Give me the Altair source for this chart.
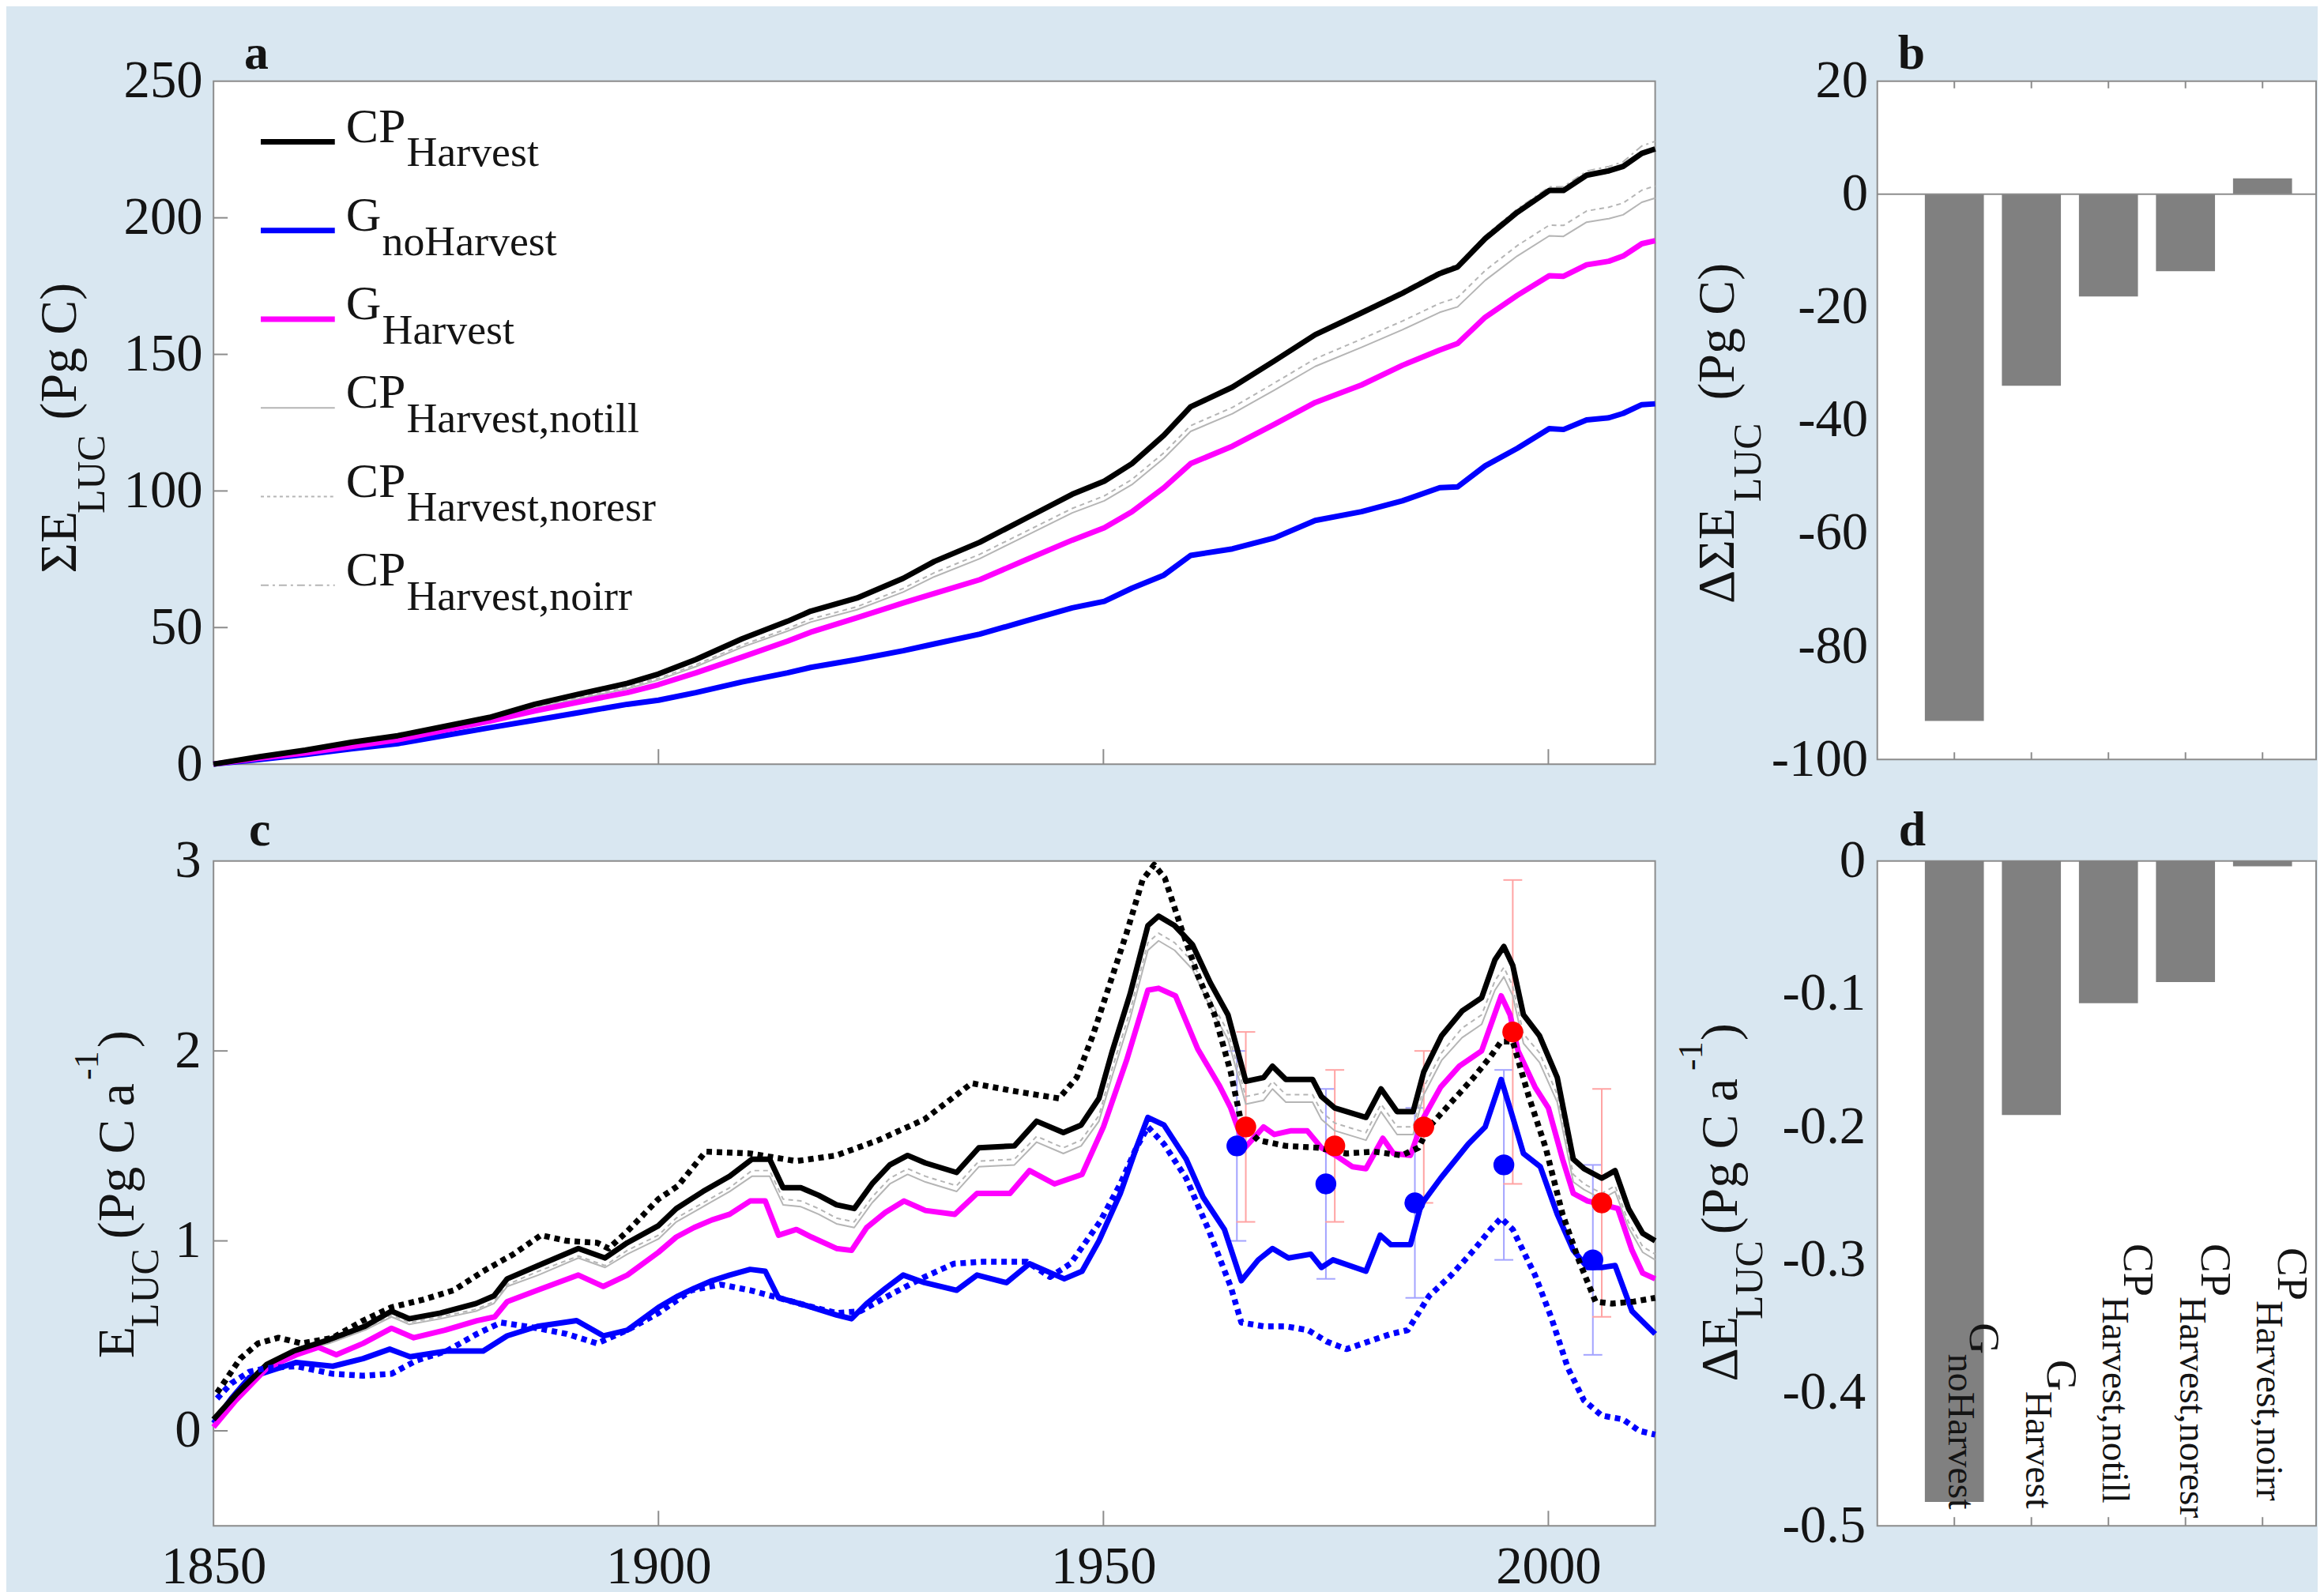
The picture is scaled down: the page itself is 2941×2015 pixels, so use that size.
import altair as alt
import pandas as pd

FONT = "Liberation Serif"
BG = "#d9e7f1"
FRAME = "#8c8c8c"
INK = "#141414"
GRAY_LINE = "#b5b5b5"
BAR = "#808080"

WA, HA = 1830, 867
WB, HB = 557, 861
WC, HC = 1830, 844
WD, HD = 557, 844

# ---------------- panel a : cumulative emissions (Pg C) ----------------
A_YEARS = [1850, 1855.2, 1860.3, 1865.5, 1870.7, 1875.8, 1881, 1886.1, 1891.3, 1896.5,
           1900, 1904.2, 1909.4, 1914.5, 1917.1, 1922.3, 1927.5, 1931, 1936.1, 1941.3,
           1946.5, 1950.1, 1953.2, 1956.8, 1959.8, 1964.5, 1969.2, 1973.8, 1979, 1983.6,
           1987.8, 1989.8, 1992.9, 1996.5, 2000.1, 2001.7, 2004.3, 2006.8, 2008.4, 2010.5, 2012]
A_CP_HARVEST = [0, 2.7, 5.1, 8.0, 10.4, 13.7, 17.1, 21.9, 25.8, 29.6,
                33.0, 38.3, 45.9, 52.3, 56.0, 60.8, 68.0, 74.2, 81.2, 90.0,
                98.8, 103.6, 110.0, 120.4, 130.8, 138.0, 147.6, 157.2, 165.2, 172.4,
                179.6, 182.0, 192.4, 202.0, 210.0, 210.0, 215.6, 217.2, 218.8, 223.6, 225.2]
A_G_NOHARVEST = [0, 1.7, 3.5, 5.6, 7.5, 10.4, 13.3, 16.1, 19.0, 21.9,
                 23.4, 26.2, 30.1, 33.4, 35.4, 38.3, 41.5, 44.0, 47.6, 52.4,
                 57.2, 59.6, 64.4, 69.2, 76.4, 78.8, 82.8, 89.2, 92.4, 96.4,
                 101.2, 101.5, 109.2, 115.6, 122.8, 122.5, 126.0, 126.8, 128.4, 131.6, 131.9]
A_G_HARVEST = [0, 2.2, 4.1, 6.5, 8.9, 12.3, 15.7, 19.5, 22.9, 26.2,
               29.1, 33.4, 39.2, 45.0, 48.3, 53.6, 59.0, 62.5, 67.5, 74.8,
               82.0, 86.5, 92.4, 101.2, 110.0, 116.4, 124.4, 132.4, 138.8, 146.0,
               151.6, 154.0, 163.6, 171.6, 178.8, 178.6, 182.8, 184.1, 186.0, 190.5, 191.6]
A_CP_NOTILL = [0, 2.6, 4.8, 7.5, 9.7, 12.8, 16.0, 20.5, 24.1, 27.6,
               30.8, 35.7, 42.8, 48.7, 52.0, 56.5, 63.0, 68.6, 75.2, 83.6,
               92.0, 96.4, 102.3, 112.0, 121.8, 128.3, 136.9, 145.6, 152.6, 159.0,
               165.4, 167.4, 177.1, 186.0, 193.4, 193.2, 198.4, 199.7, 201.1, 205.7, 207.2]
A_CP_NORESR = [0, 2.6, 4.9, 7.7, 9.9, 13.0, 16.3, 20.9, 24.6, 28.2,
               31.4, 36.4, 43.6, 49.6, 53.1, 57.6, 64.3, 70.1, 76.8, 85.2,
               93.6, 98.2, 104.2, 114.0, 123.9, 130.6, 139.5, 148.4, 155.6, 162.2,
               168.7, 170.8, 180.7, 189.8, 197.3, 197.2, 202.5, 203.9, 205.4, 210.1, 211.7]
A_CP_NOIRR = [0, 2.7, 5.1, 8.0, 10.5, 13.8, 17.2, 22.0, 25.9, 29.8,
              33.2, 38.5, 46.1, 52.6, 56.3, 61.1, 68.3, 74.6, 81.6, 90.5,
              99.3, 104.1, 110.5, 120.9, 131.4, 138.6, 148.3, 157.9, 166.0, 173.3,
              180.6, 183.0, 193.5, 203.2, 211.3, 211.4, 217.1, 218.8, 220.5, 226.3, 228.0]

# ---------------- panel c : annual emissions (Pg C / a) ----------------
C_CP_YEARS = [1850, 1852.5, 1856, 1859, 1863, 1867, 1870, 1872, 1875.5, 1879.5,
              1881.5, 1883, 1886.5, 1891, 1894, 1896.5, 1900, 1902, 1905, 1908,
              1910.5, 1912.5, 1914, 1916, 1918, 1920, 1922, 1924, 1926, 1928,
              1930, 1933.5, 1936, 1940, 1942.5, 1945.5, 1947.5, 1949.5, 1951, 1953,
              1955, 1956.2, 1958, 1960, 1962, 1964, 1966, 1968, 1969, 1970.5,
              1973.5, 1974.5, 1976, 1979.5, 1981.2, 1983, 1984.8, 1986, 1988, 1990.3,
              1992.5, 1994, 1995, 1996, 1997.2, 1999, 2001, 2002.8, 2004, 2006,
              2007.5, 2009, 2010.6, 2012]
C_CP_HARVEST = [0.06, 0.19, 0.35, 0.42, 0.48, 0.55, 0.63, 0.59, 0.62, 0.67,
                0.71, 0.80, 0.87, 0.96, 0.91, 0.99, 1.08, 1.17, 1.26, 1.34,
                1.43, 1.43, 1.28, 1.28, 1.24, 1.19, 1.17, 1.30, 1.40, 1.45,
                1.41, 1.36, 1.49, 1.50, 1.63, 1.57, 1.61, 1.75, 2.00, 2.30,
                2.66, 2.71, 2.66, 2.56, 2.36, 2.19, 1.84, 1.86, 1.92, 1.85,
                1.85, 1.76, 1.70, 1.65, 1.80, 1.68, 1.68, 1.89, 2.08, 2.21,
                2.28, 2.48, 2.55, 2.45, 2.19, 2.08, 1.86, 1.43, 1.38, 1.33,
                1.37, 1.17, 1.04, 1.00]
C_CP_NOTILL = [0.05, 0.18, 0.34, 0.41, 0.46, 0.53, 0.60, 0.56, 0.59, 0.63,
               0.67, 0.76, 0.82, 0.91, 0.86, 0.93, 1.01, 1.10, 1.18, 1.26,
               1.34, 1.34, 1.19, 1.18, 1.14, 1.09, 1.07, 1.20, 1.30, 1.35,
               1.31, 1.26, 1.39, 1.40, 1.52, 1.46, 1.50, 1.63, 1.87, 2.17,
               2.53, 2.58, 2.53, 2.43, 2.23, 2.06, 1.72, 1.74, 1.80, 1.73,
               1.73, 1.64, 1.58, 1.53, 1.68, 1.56, 1.56, 1.77, 1.95, 2.07,
               2.14, 2.32, 2.39, 2.29, 2.04, 1.94, 1.73, 1.31, 1.27, 1.22,
               1.26, 1.07, 0.94, 0.90]
C_CP_NORESR = [0.05, 0.18, 0.34, 0.41, 0.47, 0.53, 0.61, 0.57, 0.60, 0.64,
               0.68, 0.77, 0.84, 0.92, 0.87, 0.95, 1.03, 1.12, 1.20, 1.28,
               1.37, 1.37, 1.22, 1.21, 1.17, 1.12, 1.10, 1.23, 1.33, 1.38,
               1.34, 1.29, 1.42, 1.43, 1.55, 1.49, 1.53, 1.66, 1.91, 2.21,
               2.57, 2.62, 2.57, 2.47, 2.27, 2.10, 1.76, 1.78, 1.84, 1.77,
               1.77, 1.68, 1.62, 1.57, 1.72, 1.60, 1.60, 1.81, 1.99, 2.12,
               2.19, 2.37, 2.44, 2.34, 2.09, 1.99, 1.77, 1.35, 1.30, 1.25,
               1.29, 1.10, 0.97, 0.93]
C_CP_NOIRR = [0.06, 0.19, 0.35, 0.42, 0.48, 0.55, 0.63, 0.59, 0.62, 0.67,
              0.71, 0.80, 0.87, 0.96, 0.91, 0.99, 1.08, 1.17, 1.26, 1.34,
              1.43, 1.43, 1.28, 1.28, 1.24, 1.19, 1.17, 1.30, 1.40, 1.45,
              1.41, 1.36, 1.49, 1.50, 1.63, 1.57, 1.61, 1.75, 2.00, 2.30,
              2.66, 2.71, 2.66, 2.56, 2.36, 2.19, 1.84, 1.86, 1.92, 1.85,
              1.85, 1.76, 1.70, 1.65, 1.80, 1.68, 1.68, 1.89, 2.08, 2.21,
              2.28, 2.48, 2.55, 2.45, 2.19, 2.08, 1.86, 1.43, 1.38, 1.33,
              1.37, 1.17, 1.04, 1.00]
C_G_HARVEST = [(1850, 0.02), (1852.5, 0.16), (1856, 0.33), (1859.3, 0.40), (1861.8, 0.44),
               (1863.8, 0.40), (1866.8, 0.46), (1870, 0.54), (1872.5, 0.49), (1876, 0.53),
               (1879.6, 0.58), (1881.6, 0.60), (1883, 0.68), (1886.4, 0.74), (1891, 0.82),
               (1893.8, 0.76), (1896.5, 0.82), (1900, 0.94), (1902, 1.02), (1904, 1.07),
               (1906, 1.11), (1908, 1.14), (1910.3, 1.21), (1912, 1.21), (1913.5, 1.03),
               (1915.5, 1.06), (1917.2, 1.02), (1920, 0.96), (1921.7, 0.95), (1923.4, 1.07),
               (1925.5, 1.15), (1927.6, 1.21), (1930, 1.16), (1933.3, 1.14), (1935.8, 1.25),
               (1939.5, 1.25), (1941.7, 1.37), (1944.5, 1.30), (1947.6, 1.35), (1950, 1.60),
               (1952.6, 1.95), (1955, 2.32), (1956.2, 2.33), (1958.1, 2.29), (1960.6, 2.01),
               (1963, 1.82), (1964.3, 1.70), (1965.9, 1.49), (1968, 1.60), (1969.2, 1.56),
               (1971.1, 1.58), (1972.9, 1.58), (1974.5, 1.49), (1976.1, 1.45), (1978, 1.39),
               (1979.5, 1.38), (1981.4, 1.54), (1982.6, 1.46), (1984.5, 1.45), (1986, 1.65),
               (1987.9, 1.81), (1990, 1.92), (1992.5, 2.00), (1994.7, 2.29), (1995.7, 2.19),
               (1996.6, 2.00), (1998.5, 1.81), (2000, 1.70), (2001.6, 1.43), (2002.8, 1.25),
               (2004.4, 1.21), (2006.2, 1.19), (2007.8, 1.17), (2009.4, 0.95), (2010.6, 0.83),
               (2012, 0.80)]
C_G_NOHARVEST = [(1850, 0.04), (1852, 0.17), (1854, 0.28), (1856, 0.31), (1859.3, 0.36),
                 (1863.4, 0.34), (1866.8, 0.38), (1869.8, 0.43), (1872.1, 0.39), (1876.2, 0.42),
                 (1880.3, 0.42), (1883, 0.50), (1886.4, 0.55), (1890.8, 0.58), (1893.8, 0.50),
                 (1896.5, 0.53), (1900, 0.65), (1902.2, 0.71), (1904, 0.75), (1906, 0.79),
                 (1908, 0.82), (1910.3, 0.85), (1912, 0.84), (1913.5, 0.70), (1916.6, 0.66),
                 (1920, 0.61), (1921.7, 0.59), (1923.4, 0.67), (1925.5, 0.75), (1927.5, 0.82),
                 (1929.9, 0.78), (1933.5, 0.74), (1935.8, 0.82), (1939.1, 0.78), (1941.7, 0.88),
                 (1945.6, 0.80), (1947.6, 0.84), (1949.5, 1.00), (1951.9, 1.25), (1953.7, 1.49),
                 (1955, 1.65), (1956.8, 1.61), (1959.3, 1.43), (1961.2, 1.23), (1963.6, 1.06),
                 (1965.5, 0.79), (1967.4, 0.90), (1969, 0.96), (1970.8, 0.91), (1973.3, 0.93),
                 (1974.5, 0.86), (1975.8, 0.90), (1979.5, 0.84), (1981.1, 1.03), (1982.3, 0.98),
                 (1984.5, 0.98), (1985.7, 1.19), (1987.9, 1.33), (1991, 1.51), (1992.9, 1.60),
                 (1994.7, 1.85), (1996, 1.65), (1997.2, 1.46), (1999.1, 1.39), (2001, 1.14),
                 (2002.8, 0.95), (2004.4, 0.86), (2006, 0.86), (2007.5, 0.87), (2009.4, 0.63),
                 (2012, 0.51)]
C_DOT_BLACK = [(1850.4, 0.20), (1853, 0.38), (1855, 0.46), (1857.3, 0.49), (1859.9, 0.46),
               (1863.4, 0.49), (1866.8, 0.58), (1870, 0.65), (1873.5, 0.69), (1877, 0.74),
               (1880.3, 0.84), (1883.7, 0.93), (1886.8, 1.03), (1889.7, 1.00), (1893.1, 0.99),
               (1894.4, 0.96), (1896.5, 1.05), (1900, 1.22), (1902.2, 1.29), (1905.3, 1.47),
               (1910.3, 1.46), (1915.5, 1.42), (1920, 1.45), (1924.7, 1.53), (1929.9, 1.64),
               (1935.2, 1.83), (1939.8, 1.79), (1945, 1.75), (1947, 1.86), (1948.8, 2.08),
               (1950.7, 2.35), (1952.6, 2.62), (1954.4, 2.90), (1955.7, 2.98), (1956.9, 2.91),
               (1958.8, 2.64), (1960.6, 2.40), (1962.5, 2.19), (1964.3, 1.89), (1965.5, 1.62),
               (1967.4, 1.53), (1970.5, 1.50), (1974.2, 1.49), (1977.3, 1.46), (1980.4, 1.47),
               (1983.5, 1.45), (1985.4, 1.49), (1986.6, 1.60), (1989.1, 1.73), (1991.6, 1.86),
               (1993.5, 1.97), (1994.7, 2.05), (1996, 2.05), (1997.8, 1.76), (1999.7, 1.49),
               (2001.6, 1.14), (2003.4, 0.90), (2005.3, 0.68), (2007.1, 0.67), (2009.6, 0.68),
               (2012, 0.70)]
C_DOT_BLUE = [(1850.4, 0.17), (1852, 0.25), (1854, 0.31), (1855.9, 0.33), (1859.3, 0.34),
              (1863.4, 0.30), (1866.8, 0.29), (1870, 0.30), (1872.8, 0.37), (1876.2, 0.42),
              (1879.6, 0.51), (1882.3, 0.57), (1886.4, 0.54), (1889.7, 0.51), (1893.1, 0.46),
              (1896.5, 0.53), (1900, 0.62), (1903.7, 0.74), (1907, 0.77), (1910.3, 0.74),
              (1913.5, 0.70), (1916.6, 0.66), (1920, 0.62), (1922.7, 0.63), (1926.6, 0.73),
              (1929.9, 0.81), (1933.2, 0.88), (1936.4, 0.89), (1939.8, 0.89), (1941.4, 0.89),
              (1944, 0.81), (1946.3, 0.88), (1949.6, 1.10), (1951.9, 1.30), (1953.7, 1.49),
              (1955, 1.60), (1956.8, 1.51), (1959.3, 1.33), (1961.8, 1.06), (1964.3, 0.76),
              (1965.5, 0.57), (1968, 0.55), (1970.5, 0.55), (1973, 0.53), (1975.1, 0.47),
              (1977.3, 0.43), (1979.8, 0.47), (1982.3, 0.51), (1984.2, 0.53), (1986.6, 0.71),
              (1989.1, 0.82), (1991.6, 0.95), (1993.5, 1.06), (1994.7, 1.12), (1996, 1.06),
              (1998.5, 0.82), (2000.3, 0.60), (2002.2, 0.33), (2004, 0.16), (2006, 0.08),
              (2008.4, 0.06), (2010.2, 0.00), (2012, -0.02)]

OBS_RED_YEARS = [1966, 1976, 1986, 1996, 2006]
OBS_RED = [1.6, 1.5, 1.6, 2.1, 1.2]
OBS_RED_ERR = [0.5, 0.4, 0.4, 0.8, 0.6]
OBS_BLUE_YEARS = [1965, 1975, 1985, 1995, 2005]
OBS_BLUE = [1.5, 1.3, 1.2, 1.4, 0.9]
OBS_BLUE_ERR = [0.5, 0.5, 0.5, 0.5, 0.5]

# ---------------- panels b, d : differences to CP_Harvest ----------------
SCEN_POS = [1, 2, 3, 4, 5]
SCEN_MAIN = ["G", "G", "CP", "CP", "CP"]
SCEN_SUB = ["noHarvest", "Harvest", "Harvest,notill", "Harvest,noresr", "Harvest,noirr"]
B_DELTA_CUM = [-93.2, -33.9, -18.1, -13.6, 2.8]
D_DELTA_RATE = [-0.482, -0.191, -0.107, -0.091, -0.004]

LEGEND_MAIN = ["CP", "G", "G", "CP", "CP", "CP"]
LEGEND_SUB = ["Harvest", "noHarvest", "Harvest", "Harvest,notill", "Harvest,noresr", "Harvest,noirr"]

# ---------------- helpers ----------------
MINUS_FIX = "replace(datum.label, '\u2212', '-')"


def yaxis(values, pad, expr=None):
    kw = dict(values=values, title=None, grid=False, ticks=False, domain=False,
              labelFont=FONT, labelFontSize=67, labelColor=INK, labelPadding=pad)
    if expr:
        kw["labelExpr"] = expr
    return alt.Axis(**kw)


sx_time = alt.Scale(domain=[1850, 2012], nice=False, zero=False)
sy_a = alt.Scale(domain=[0, 250], nice=False, zero=False)
sy_c = alt.Scale(domain=[-0.5, 3], nice=False, zero=False)
sx_b = alt.Scale(domain=[0, WB / 97.8], nice=False, zero=False)
sy_b = alt.Scale(domain=[-100, 20], nice=False, zero=False)
sx_d = alt.Scale(domain=[0, WD / 97.8], nice=False, zero=False)
sy_d = alt.Scale(domain=[-0.5, 0], nice=False, zero=False)

ax_c_x = alt.Axis(values=[1850, 1900, 1950, 2000], title=None, grid=False, ticks=False,
                  domain=False, labelFont=FONT, labelFontSize=67, labelColor=INK,
                  labelPadding=20, labelFlush=False, format="d")


def XA(f): return alt.X(f"{f}:Q", scale=sx_time, axis=None)
def YA(f): return alt.Y(f"{f}:Q", scale=sy_a, axis=yaxis([0, 50, 100, 150, 200, 250], 14))
def XC(f): return alt.X(f"{f}:Q", scale=sx_time, axis=ax_c_x)
def YC(f): return alt.Y(f"{f}:Q", scale=sy_c, axis=yaxis([0, 1, 2, 3], 16))
def XB(f): return alt.X(f"{f}:Q", scale=sx_b, axis=None)
def YB(f): return alt.Y(f"{f}:Q", scale=sy_b, axis=yaxis([-100, -80, -60, -40, -20, 0, 20], 12, MINUS_FIX))
def XD(f): return alt.X(f"{f}:Q", scale=sx_d, axis=None)
def YD(f): return alt.Y(f"{f}:Q", scale=sy_d, axis=yaxis(
    [-0.5, -0.4, -0.3, -0.2, -0.1, 0], 15,
    "datum.value == 0 ? '0' : replace(format(datum.value, '.1f'), '\u2212', '-')"))


def one():
    return pd.DataFrame({"k": [0]})


def txt(s, x, y, size, angle=0, align="left", bold=False):
    kw = dict(text=s, font=FONT, fontSize=size, align=align, baseline="alphabetic", color=INK)
    if angle:
        kw["angle"] = angle
    if bold:
        kw["fontWeight"] = "bold"
    return alt.Chart(one()).mark_text(**kw).encode(x=alt.value(x), y=alt.value(y))


def line(years, vals, X, Y, color, width, dash=None, cap="butt"):
    df = pd.DataFrame({"year": list(years), "v": list(vals)})
    kw = dict(color=color, strokeWidth=width, strokeJoin="round", strokeCap=cap)
    if dash:
        kw["strokeDash"] = dash
    return alt.Chart(df).mark_line(**kw).encode(x=X("year"), y=Y("v"))


def pairs(p):
    return [a for a, b in p], [b for a, b in p]


THICK = 7

# ---------------- panel a ----------------
la = []
la.append(line(A_YEARS, A_CP_NOIRR, XA, YA, GRAY_LINE, 2, [10, 5, 3, 5]))
la.append(line(A_YEARS, A_CP_NORESR, XA, YA, GRAY_LINE, 2, [6, 5]))
la.append(line(A_YEARS, A_CP_NOTILL, XA, YA, GRAY_LINE, 2))
la.append(line(A_YEARS, A_G_NOHARVEST, XA, YA, "#0000ff", THICK))
la.append(line(A_YEARS, A_G_HARVEST, XA, YA, "#ff00ff", THICK))
la.append(line(A_YEARS, A_CP_HARVEST, XA, YA, "#000000", THICK))
la.append(alt.Chart(pd.DataFrame({"year": [1900, 1950, 2000]})).mark_rule(color=FRAME, strokeWidth=2)
          .encode(x=XA("year"), y=alt.value(HA), y2=alt.value(HA - 19)))
la.append(alt.Chart(pd.DataFrame({"v": [50, 100, 150, 200]})).mark_rule(color=FRAME, strokeWidth=2)
          .encode(y=YA("v"), x=alt.value(0), x2=alt.value(18)))

leg_styles = [("#000000", THICK, None), ("#0000ff", THICK, None), ("#ff00ff", THICK, None),
              (GRAY_LINE, 2, None), (GRAY_LINE, 2, [4, 4]), (GRAY_LINE, 2, [10, 5, 3, 5])]
for i, (m, s) in enumerate(zip(LEGEND_MAIN, LEGEND_SUB)):
    yrow = 77 + i * 112.6
    col, w, dash = leg_styles[i]
    kw = dict(color=col, strokeWidth=w)
    if dash:
        kw["strokeDash"] = dash
    la.append(alt.Chart(one()).mark_rule(**kw).encode(x=alt.value(60), x2=alt.value(154), y=alt.value(yrow)))
    la.append(txt(m, 168, yrow, 62))
    la.append(txt(s, 168 + (77 if m == "CP" else 46), yrow + 31, 54))

la.append(txt("\u03a3E", -175, 546, 66, angle=270, align="right"))
la.append(txt("LUC", -139, 499, 50, angle=270, align="center"))
la.append(txt("(Pg C)", -175, 430, 66, angle=270, align="left"))
la.append(txt("a", 39, -16, 62, bold=True))
la.append(alt.Chart(one()).mark_rect(color=BG).encode(
    x=alt.value(-262), x2=alt.value(-260), y=alt.value(-91), y2=alt.value(-89)))
panel_a = alt.layer(*la).properties(width=WA, height=HA)

# ---------------- panel b ----------------
lb = []
dfb = pd.DataFrame({"pos": SCEN_POS, "val": B_DELTA_CUM})
lb.append(alt.Chart(dfb).transform_calculate(x1="datum.pos - 0.383", x2r="datum.pos + 0.383", base="0")
          .mark_rect(color=BAR).encode(x=XB("x1"), x2=alt.X2("x2r"), y=YB("val"), y2=alt.Y2("base")))
lb.append(alt.Chart(pd.DataFrame({"v": [0]})).mark_rule(color=FRAME, strokeWidth=2)
          .encode(y=YB("v"), x=alt.value(0), x2=alt.value(WB)))
lb.append(alt.Chart(pd.DataFrame({"pos": SCEN_POS})).mark_rule(color=FRAME, strokeWidth=2)
          .encode(x=XB("pos"), y=alt.value(0), y2=alt.value(9)))
lb.append(alt.Chart(pd.DataFrame({"pos": SCEN_POS})).mark_rule(color=FRAME, strokeWidth=2)
          .encode(x=XB("pos"), y=alt.value(HB), y2=alt.value(HB - 9)))
lb.append(txt("\u0394\u03a3E", -182, 542, 66, angle=270, align="right"))
lb.append(txt("LUC", -148, 484, 50, angle=270, align="center"))
lb.append(txt("(Pg C)", -182, 405, 66, angle=270, align="left"))
lb.append(txt("b", 26, -16, 62, bold=True))
panel_b = alt.layer(*lb).properties(width=WB, height=HB)

# ---------------- panel c ----------------
lc = []
eb = pd.DataFrame({"year": OBS_BLUE_YEARS, "v": OBS_BLUE, "e": OBS_BLUE_ERR})
er = pd.DataFrame({"year": OBS_RED_YEARS, "v": OBS_RED, "e": OBS_RED_ERR})
for dfe, col in ((eb, "#a3a3ff"), (er, "#ffa3a3")):
    base = alt.Chart(dfe).transform_calculate(lo="datum.v - datum.e", hi="datum.v + datum.e",
                                              xl="datum.year - 1.06", xr="datum.year + 1.06")
    lc.append(base.mark_rule(color=col, strokeWidth=2).encode(x=XC("year"), y=YC("lo"), y2=alt.Y2("hi")))
    lc.append(base.mark_rule(color=col, strokeWidth=2).encode(x=XC("xl"), x2=alt.X2("xr"), y=YC("lo")))
    lc.append(base.mark_rule(color=col, strokeWidth=2).encode(x=XC("xl"), x2=alt.X2("xr"), y=YC("hi")))

lc.append(line(C_CP_YEARS, C_CP_NOIRR, XC, YC, GRAY_LINE, 2, [10, 5, 3, 5]))
lc.append(line(C_CP_YEARS, C_CP_NORESR, XC, YC, GRAY_LINE, 2, [6, 5]))
lc.append(line(C_CP_YEARS, C_CP_NOTILL, XC, YC, GRAY_LINE, 2))
yy, vv = pairs(C_G_NOHARVEST)
lc.append(line(yy, vv, XC, YC, "#0000ff", THICK))
yy, vv = pairs(C_G_HARVEST)
lc.append(line(yy, vv, XC, YC, "#ff00ff", THICK))
lc.append(line(C_CP_YEARS, C_CP_HARVEST, XC, YC, "#000000", THICK))
yy, vv = pairs(C_DOT_BLUE)
lc.append(line(yy, vv, XC, YC, "#0000ff", 7.5, [7, 6]))
yy, vv = pairs(C_DOT_BLACK)
lc.append(line(yy, vv, XC, YC, "#000000", 7.5, [7, 6]))
lc.append(alt.Chart(eb).mark_circle(size=700, color="#0000ff", opacity=1).encode(x=XC("year"), y=YC("v")))
lc.append(alt.Chart(er).mark_circle(size=700, color="#ff0000", opacity=1).encode(x=XC("year"), y=YC("v")))
lc.append(alt.Chart(pd.DataFrame({"year": [1900, 1950, 2000]})).mark_rule(color=FRAME, strokeWidth=2)
          .encode(x=XC("year"), y=alt.value(HC), y2=alt.value(HC - 19)))
lc.append(alt.Chart(pd.DataFrame({"v": [0, 1, 2]})).mark_rule(color=FRAME, strokeWidth=2)
          .encode(y=YC("v"), x=alt.value(0), x2=alt.value(18)))
lc.append(txt("E", -102, 591, 66, angle=270, align="right"))
lc.append(txt("LUC", -70, 542, 50, angle=270, align="center"))
lc.append(txt("(Pg C a", -102, 480, 66, angle=270, align="left"))
lc.append(txt("-1", -147, 278, 44, angle=270, align="left"))
lc.append(txt(")", -102, 237, 66, angle=270, align="left"))
lc.append(txt("c", 45, -20, 62, bold=True))
panel_c = alt.layer(*lc).properties(width=WC, height=HC)

# ---------------- panel d ----------------
ld = []
dfd = pd.DataFrame({"pos": SCEN_POS, "val": D_DELTA_RATE})
ld.append(alt.Chart(dfd).transform_calculate(x1="datum.pos - 0.383", x2r="datum.pos + 0.383", base="0")
          .mark_rect(color=BAR).encode(x=XD("x1"), x2=alt.X2("x2r"), y=YD("val"), y2=alt.Y2("base")))
ld.append(alt.Chart(pd.DataFrame({"pos": SCEN_POS})).mark_rule(color=FRAME, strokeWidth=2)
          .encode(x=XD("pos"), y=alt.value(HD), y2=alt.value(HD - 11)))
D_LABEL_JOIN = [626, 673, 553, 553, 558]
for i in range(5):
    dfl = pd.DataFrame({"pos": [SCEN_POS[i]]})
    ld.append(alt.Chart(dfl).mark_text(text=SCEN_MAIN[i], angle=90, align="right", baseline="alphabetic",
                                       dy=-20, font=FONT, fontSize=55, color=INK)
              .encode(x=XD("pos"), y=alt.value(D_LABEL_JOIN[i])))
    ld.append(alt.Chart(dfl).mark_text(text=SCEN_SUB[i], angle=90, align="left", baseline="alphabetic",
                                       dy=7, font=FONT, fontSize=48, color=INK)
              .encode(x=XD("pos"), y=alt.value(D_LABEL_JOIN[i])))
ld.append(txt("\u0394E", -178, 578, 66, angle=270, align="right"))
ld.append(txt("LUC", -146, 532, 50, angle=270, align="center"))
ld.append(txt("(Pg C a", -178, 474, 66, angle=270, align="left"))
ld.append(txt("-1", -222, 266, 44, angle=270, align="left"))
ld.append(txt(")", -178, 228, 66, angle=270, align="left"))
ld.append(txt("d", 27, -20, 62, bold=True))
panel_d = alt.layer(*ld).properties(width=WD, height=HD)

chart = (alt.concat(panel_a, panel_b, panel_c, panel_d, columns=2,
                    spacing={"row": 123, "column": 282}, bounds="flush")
         .properties(background=BG, padding=0)
         .configure_view(fill="white", stroke=FRAME, strokeWidth=2))

chart.save("out.html", embed_options={"renderer": "svg", "actions": False})
